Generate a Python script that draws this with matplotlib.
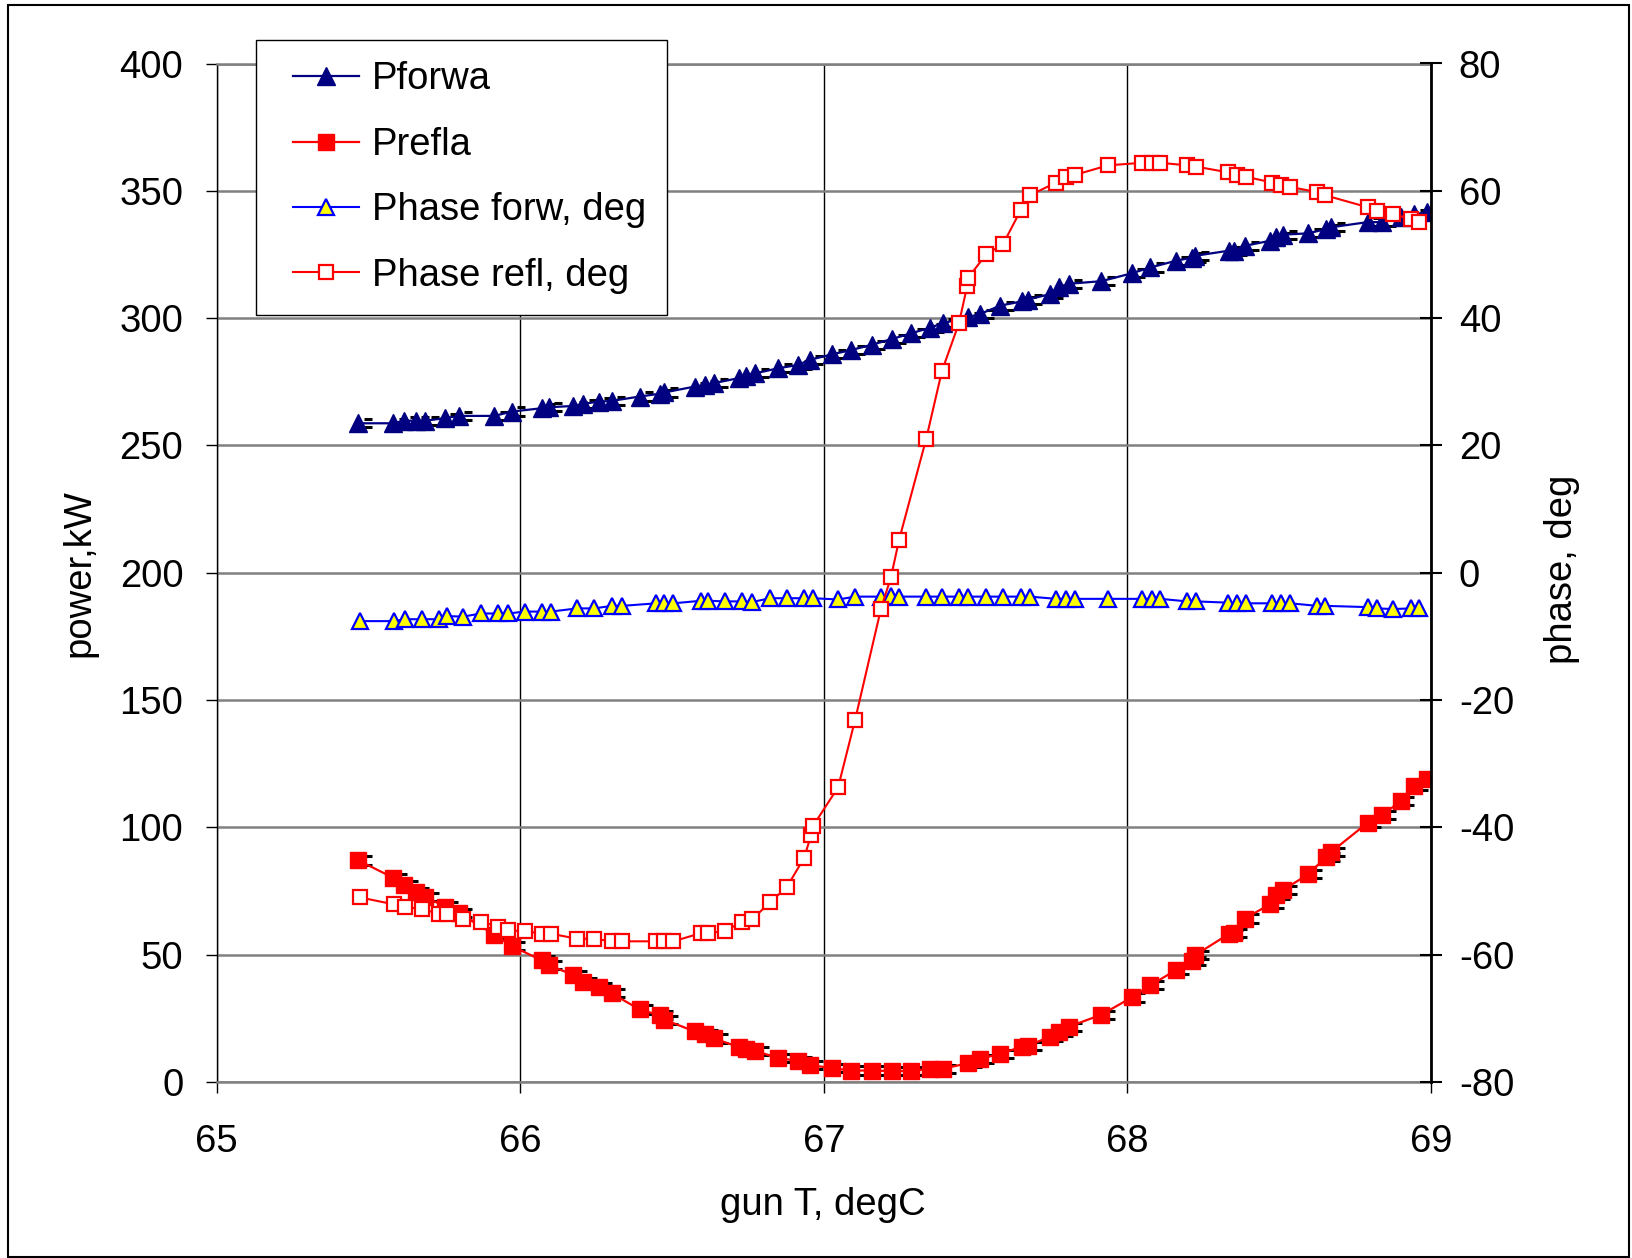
import matplotlib
matplotlib.use('Agg')
import matplotlib.pyplot as plt
from matplotlib.patches import Rectangle
from matplotlib.transforms import ScaledTranslation
from matplotlib.legend_handler import HandlerLine2D
import numpy as np

plt.rcParams['font.family'] = ['Liberation Sans', 'DejaVu Sans']
plt.rcParams['axes.unicode_minus'] = False

# ---------------- data ----------------
x_ticks = [65, 66, 67, 68, 69]
power_ticks = [0, 50, 100, 150, 200, 250, 300, 350, 400]
phase_ticks = [-80, -60, -40, -20, 0, 20, 40, 60, 80]

t_power = [65.467, 65.582, 65.617, 65.655, 65.687, 65.751, 65.797, 65.915, 65.972, 66.070,
           66.093, 66.174, 66.206, 66.258, 66.301, 66.393, 66.459, 66.474, 66.574, 66.607,
           66.639, 66.722, 66.745, 66.774, 66.849, 66.915, 66.953, 67.028, 67.091, 67.157,
           67.224, 67.287, 67.349, 67.391, 67.476, 67.514, 67.581, 67.653, 67.672, 67.744,
           67.775, 67.806, 67.914, 68.014, 68.076, 68.159, 68.214, 68.224, 68.335, 68.350,
           68.387, 68.471, 68.491, 68.514, 68.596, 68.655, 68.672, 68.791, 68.839, 68.900,
           68.945, 68.986]

p_forw = [258.7, 258.7, 259.7, 259.7, 259.7, 260.7, 261.6, 261.6, 263.3, 264.6,
          265.0, 265.5, 266.3, 267.2, 267.5, 269.2, 270.3, 270.8, 273.1, 273.8,
          274.5, 276.5, 277.3, 278.3, 280.3, 281.6, 283.6, 285.8, 287.5, 289.5,
          291.8, 294.0, 296.2, 298.0, 300.4, 301.6, 304.9, 306.6, 307.3, 309.4,
          312.2, 313.5, 314.5, 317.6, 319.9, 322.5, 323.8, 324.5, 326.5, 326.5,
          328.4, 330.4, 331.7, 332.8, 333.3, 335.0, 335.7, 337.7, 337.7, 339.7,
          340.7, 341.7]

p_refl = [87.0, 80.2, 77.3, 74.7, 72.8, 68.9, 66.3, 57.9, 53.4, 47.8,
          45.9, 42.1, 39.1, 37.2, 34.8, 28.5, 26.2, 24.5, 19.9, 18.8,
          17.1, 13.6, 12.8, 12.3, 9.3, 8.4, 6.7, 5.4, 4.5, 4.5,
          4.3, 4.3, 5.2, 5.2, 7.4, 9.1, 11.1, 13.9, 14.2, 17.8,
          19.5, 21.7, 26.4, 33.2, 38.0, 43.9, 47.5, 49.9, 58.2, 58.5,
          64.2, 69.9, 73.6, 75.5, 81.6, 88.5, 90.4, 101.8, 104.7, 110.4,
          116.2, 119.0]

t_phase_f = [65.472, 65.584, 65.620, 65.676, 65.732, 65.758, 65.811, 65.870, 65.927, 65.959,
             66.015, 66.071, 66.101, 66.187, 66.243, 66.302, 66.336, 66.448, 66.474, 66.504,
             66.596, 66.619, 66.675, 66.731, 66.764, 66.823, 66.879, 66.935, 66.964, 67.047,
             67.103, 67.188, 67.221, 67.248, 67.337, 67.389, 67.445, 67.475, 67.534, 67.590,
             67.649, 67.679, 67.765, 67.798, 67.827, 67.936, 68.048, 68.081, 68.108, 68.197,
             68.226, 68.332, 68.361, 68.391, 68.477, 68.506, 68.536, 68.625, 68.651, 68.793,
             68.823, 68.875, 68.935, 68.962]

ph_forw = [-7.6, -7.6, -7.3, -7.3, -7.3, -6.8, -6.9, -6.4, -6.4, -6.4,
           -6.1, -6.1, -6.1, -5.6, -5.6, -5.2, -5.2, -4.8, -4.8, -4.8,
           -4.4, -4.4, -4.5, -4.5, -4.6, -4.0, -4.0, -4.0, -4.0, -4.2,
           -3.75, -3.75, -3.7, -3.75, -3.75, -3.75, -3.75, -3.75, -3.75, -3.75,
           -3.75, -3.75, -4.1, -4.1, -4.1, -4.1, -4.1, -4.1, -4.1, -4.5,
           -4.5, -4.7, -4.8, -4.8, -4.8, -4.8, -4.8, -5.2, -5.2, -5.4,
           -5.6, -5.7, -5.6, -5.6]

t_phase_r = [65.472, 65.584, 65.620, 65.676, 65.732, 65.758, 65.811, 65.870, 65.927, 65.959,
             66.015, 66.071, 66.101, 66.187, 66.243, 66.302, 66.336, 66.448, 66.474, 66.504,
             66.596, 66.619, 66.675, 66.731, 66.764, 66.823, 66.879, 66.935, 66.958, 66.964,
             67.047, 67.103, 67.188, 67.221, 67.248, 67.337, 67.389, 67.445, 67.472, 67.475,
             67.534, 67.590, 67.649, 67.679, 67.765, 67.798, 67.827, 67.936, 68.048, 68.081,
             68.108, 68.197, 68.226, 68.332, 68.361, 68.391, 68.477, 68.506, 68.536, 68.625,
             68.651, 68.793, 68.823, 68.875, 68.935, 68.962]

ph_refl = [-51.0, -52.1, -52.5, -52.8, -53.6, -53.6, -54.4, -54.8, -55.6, -56.2,
           -56.3, -56.7, -56.7, -57.5, -57.5, -57.9, -57.9, -57.9, -57.9, -57.9,
           -56.6, -56.6, -56.3, -54.8, -54.4, -51.8, -49.3, -44.8, -41.2, -39.8,
           -33.7, -23.1, -5.7, -0.7, 5.2, 21.0, 31.7, 39.2, 45.0, 46.3,
           50.0, 51.6, 57.0, 59.3, 61.3, 62.2, 62.5, 64.0, 64.4, 64.4,
           64.4, 64.0, 63.8, 62.9, 62.5, 62.2, 61.3, 60.9, 60.6, 59.8,
           59.3, 57.4, 56.9, 56.3, 55.6, 55.1]

# ---------------- figure ----------------
FS = 27.5
W, H = 1633, 1258
fig = plt.figure(figsize=(W / 100, H / 100), dpi=100)
L, R = 216.7 / W, 1431 / W
B, T = 1 - 1082 / H, 1 - 63.5 / H
ax = fig.add_axes([L, B, R - L, T - B])
ax2 = ax.twinx()

ax.set_xlim(65, 69)
ax.set_ylim(0, 400)
ax2.set_ylim(-80, 80)
ax.set_xticks(x_ticks)
ax.set_yticks(power_ticks)
ax2.set_yticks(phase_ticks)

ax.xaxis.grid(True, color='black', lw=1.0)
ax.yaxis.grid(True, color='#808080', lw=1.8)
ax.set_axisbelow(True)

for s in ['top', 'bottom']:
    ax.spines[s].set_color('#808080')
    ax.spines[s].set_linewidth(1.8)
ax.spines['left'].set_color('black')
ax.spines['left'].set_linewidth(1.0)
ax.spines['right'].set_visible(False)
for s in ['top', 'bottom', 'left']:
    ax2.spines[s].set_visible(False)
ax2.spines['right'].set_color('black')
ax2.spines['right'].set_linewidth(2.0)

ax.tick_params(axis='y', direction='out', length=8, width=1, labelsize=FS, pad=16, right=False)
ax.tick_params(axis='x', direction='out', length=8, width=1, labelsize=FS, pad=22, top=False)
ax2.tick_params(axis='y', direction='inout', length=16, width=1.5, labelsize=FS, pad=12)

# power series
l1, = ax.plot(t_power, p_forw, color='#000080', lw=1.6, marker='^', ms=12.5,
              mfc='#000080', mec='#000080', label='Pforwa', zorder=3)
l2, = ax.plot(t_power, p_refl, color='#FF0000', lw=1.6, marker='s', ms=11,
              mfc='#FF0000', mec='#FF0000', label='Prefla', zorder=3)

off = ax.transData + ScaledTranslation(7 / 72, 0, fig.dpi_scale_trans)
for arr in (p_forw, p_refl):
    a = np.asarray(arr)
    for sgn in (1, -1):
        ax.plot(t_power, a + sgn * 1.6, ls='none', marker='_', ms=6, mew=2.2,
                color='black', transform=off, zorder=2)

# phase series
l3, = ax2.plot(t_phase_f, ph_forw, color='#0000FF', lw=1.5, marker='^', ms=11.5,
               mfc='#FFFF00', mec='#0000FF', mew=1.6, label='Phase forw, deg', zorder=3)
l4, = ax2.plot(t_phase_r, ph_refl, color='#FF0000', lw=1.5, marker='s', ms=10.5,
               mfc='white', mec='#FF0000', mew=1.6, label='Phase refl, deg', zorder=3)


class ShiftedHandler(HandlerLine2D):
    def __init__(self, shift, **kw):
        super().__init__(**kw)
        self.shift = shift

    def create_artists(self, legend, orig_handle, xdescent, ydescent, width, height,
                       fontsize, trans):
        return super().create_artists(legend, orig_handle, xdescent - self.shift * fontsize,
                                      ydescent, width, height, fontsize, trans)


SHIFT = 0.40
hmap = {l: ShiftedHandler(SHIFT) for l in (l1, l2, l3, l4)}
leg = ax2.legend([l1, l2, l3, l4], [l.get_label() for l in (l1, l2, l3, l4)],
                 handler_map=hmap,
                 loc='upper left', bbox_to_anchor=(0.0324, 1.023), bbox_transform=ax.transAxes,
                 fontsize=FS, frameon=True, fancybox=False, edgecolor='black', framealpha=1,
                 borderpad=0.56, labelspacing=0.77, handlelength=1.74,
                 handletextpad=0.33 + SHIFT, borderaxespad=0)
leg.get_frame().set_linewidth(1.0)

ax.set_xlabel('gun T, degC', fontsize=FS, va='center')
ax.xaxis.set_label_coords(0.4993, -0.1208)
ax.set_ylabel('power,kW', fontsize=FS, va='center')
ax.yaxis.set_label_coords(-0.1126, 0.5)
ax2.set_ylabel('phase, deg', fontsize=FS, va='center', rotation=90)
ax2.yaxis.set_label_coords(1.108, 0.503)

fig.patches.append(Rectangle((8 / W, 1 / H), 1621 / W, 1252 / H, transform=fig.transFigure,
                             fill=False, ec='black', lw=1.5))

fig.savefig('out.png', dpi=100)
